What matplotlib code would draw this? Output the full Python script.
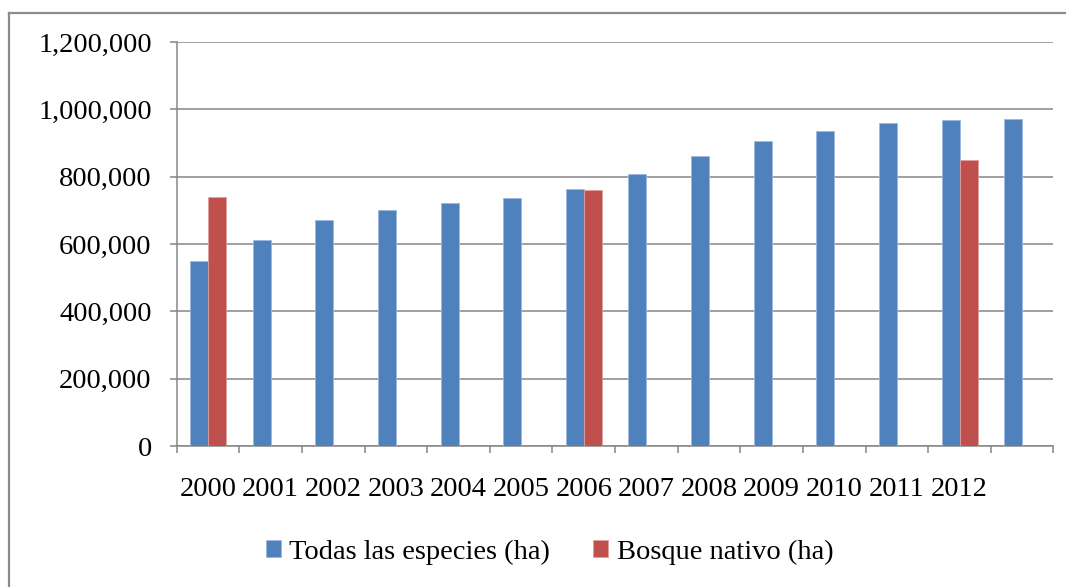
import matplotlib
matplotlib.use('Agg')
import matplotlib.pyplot as plt
from matplotlib.lines import Line2D
import numpy as np

# datos
anios = ['2000', '2001', '2002', '2003', '2004', '2005', '2006',
         '2007', '2008', '2009', '2010', '2011', '2012', '']
todas = [550000, 612000, 670000, 701000, 721000, 738000, 764000,
         808000, 861000, 907000, 936000, 959000, 968000, 971000]
nativo = [740000, None, None, None, None, None, 760000,
          None, None, None, None, None, 849000, None]

azul = '#4F81BD'
rojo = '#C0504D'
gris = '#868686'

plt.rcParams['font.family'] = ['Liberation Serif', 'DejaVu Serif']

W, H = 1066, 587
fig = plt.figure(figsize=(W / 100, H / 100), dpi=100)
ax = fig.add_axes([176.7 / W, 1 - 446 / H, (1053.5 - 176.7) / W, (446 - 42) / H])

x = np.arange(len(anios))
ancho = 0.287
ax.bar(x - ancho / 2, todas, ancho, color=azul, edgecolor='#9DB9DE', linewidth=0.6,
       label='Todas las especies (ha)', zorder=3)
xn = [i for i, v in enumerate(nativo) if v is not None]
vn = [v for v in nativo if v is not None]
ax.bar(np.array(xn) + ancho / 2, vn, ancho, color=rojo, edgecolor='#E0A09E', linewidth=0.6,
       label='Bosque nativo (ha)', zorder=3)

ax.set_xlim(-0.5, len(anios) - 0.5)
ax.set_ylim(0, 1200000)
ax.set_yticks(range(0, 1200001, 200000))
ax.set_yticklabels([f'{v:,}' for v in range(0, 1200001, 200000)], fontsize=20.5)
ax.yaxis.grid(True, color=gris, linewidth=1.1, zorder=0)

ax.set_xticks(x)
ax.set_xticklabels(anios, fontsize=20.5)
ax.set_xticks(np.arange(-0.5, len(anios)), minor=True)
ax.tick_params(axis='x', which='major', length=0, pad=22.5)
ax.tick_params(axis='x', which='minor', length=5, width=1.1, color=gris, direction='out')
ax.tick_params(axis='y', length=5, width=1.1, color=gris, pad=13)

for s in ['top', 'right']:
    ax.spines[s].set_visible(False)
for s in ['left', 'bottom']:
    ax.spines[s].set_color(gris)
    ax.spines[s].set_linewidth(1.1)

# marco exterior (cortado a la derecha y abajo)
fig.add_artist(Line2D([8.5 / W, 1.0], [1 - 12.5 / H, 1 - 12.5 / H], transform=fig.transFigure,
                      color='#8C8C8C', linewidth=1.6))
fig.add_artist(Line2D([8.5 / W, 8.5 / W], [1 - 12.5 / H, 0.0], transform=fig.transFigure,
                      color='#8C8C8C', linewidth=1.6))

fig.legend(loc='center', bbox_to_anchor=(549.5 / W, 1 - 552 / H), ncol=2, frameon=False,
           fontsize=20.5, handlelength=0.53, handleheight=0.53, handletextpad=0.3,
           columnspacing=1.5)

fig.savefig('out.png', dpi=100)
